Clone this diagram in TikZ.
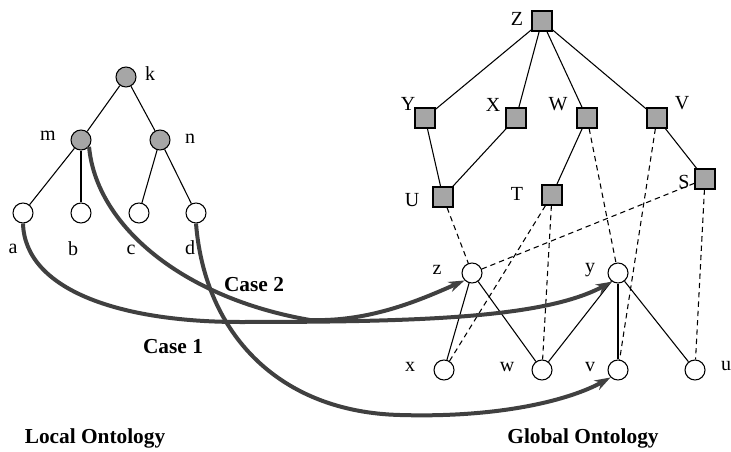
\documentclass[tikz,border=0pt]{standalone}
\usepackage{fontspec}
\setmainfont{Liberation Serif}
\usetikzlibrary{arrows.meta}

\tikzset{
    leaf/.style={circle, draw, line width=0.8pt, fill=white, minimum size=15pt, inner sep=0pt},
    branch/.style={leaf, fill=black!35},
    concept/.style={rectangle, draw, line width=0.9pt, fill=black!35, minimum size=15pt, inner sep=0pt},
    lbl/.style={font=\fontsize{15}{18}\selectfont, inner sep=0pt},
    heading/.style={font=\fontsize{16}{19}\selectfont\bfseries, inner sep=0pt},
    mapping/.style={line width=3pt, black!75, -{Stealth[length=12pt,width=8pt]}},
    shared/.style={dash pattern=on 4pt off 3pt, line width=0.8pt},
}

\begin{document}
\begin{tikzpicture}[x=0.75pt, y=-0.75pt, line width=0.8pt]
    \useasboundingbox (0,0) rectangle (731,452);

    % local ontology
    \node[branch] (k) at (126,77) {};
    \node[branch] (m) at (81,140) {};
    \node[branch] (n) at (160,140) {};
    \node[leaf] (a) at (23,213) {};
    \node[leaf] (b) at (81,213) {};
    \node[leaf] (c) at (139,213) {};
    \node[leaf] (d) at (196,213) {};

    \node[lbl] (k-l) at (150,74) {k};
    \node[lbl] (m-l) at (48,136) {m};
    \node[lbl] (n-l) at (190,139) {n};
    \node[lbl] (a-l) at (13,249) {a};
    \node[lbl] (b-l) at (73,249) {b};
    \node[lbl] (c-l) at (131,250) {c};
    \node[lbl] (d-l) at (190,248) {d};

    \draw (k) -- (m);
    \draw (k) -- (n);
    \draw (m) -- (a);
    \draw (m) -- (b);
    \draw (n) -- (c);
    \draw (n) -- (d);

    % global ontology: concepts
    \node[concept] (Z) at (542,21) {};
    \node[concept] (Y) at (425,118) {};
    \node[concept] (X) at (516,118) {};
    \node[concept] (W) at (587,118) {};
    \node[concept] (V) at (657,118) {};
    \node[concept] (U) at (443,197) {};
    \node[concept] (T) at (552,195) {};
    \node[concept] (S) at (705,179) {};

    \node[lbl] (Z-l) at (517,19) {Z};
    \node[lbl] (Y-l) at (408,104) {Y};
    \node[lbl] (X-l) at (493,105) {X};
    \node[lbl] (W-l) at (558,104) {W};
    \node[lbl] (V-l) at (682,103) {V};
    \node[lbl] (U-l) at (412,200) {U};
    \node[lbl] (T-l) at (517,194) {T};
    \node[lbl] (S-l) at (684,182) {S};

    % global ontology: instances
    \node[leaf] (z) at (472,273) {};
    \node[leaf] (y) at (618,273) {};
    \node[leaf] (x) at (444,370) {};
    \node[leaf] (w) at (542,370) {};
    \node[leaf] (v) at (618,370) {};
    \node[leaf] (u) at (695,370) {};

    \node[lbl] (z-l) at (437,270) {z};
    \node[lbl] (y-l) at (590,270) {y};
    \node[lbl] (x-l) at (410,367) {x};
    \node[lbl] (w-l) at (507,367) {w};
    \node[lbl] (v-l) at (590,367) {v};
    \node[lbl] (u-l) at (726,366) {u};

    \draw (Z) -- (Y);
    \draw (Z) -- (X);
    \draw (Z) -- (W);
    \draw (Z) -- (V);
    \draw (Y) -- (U);
    \draw (X) -- (U);
    \draw (W) -- (T);
    \draw (V) -- (S);

    \draw (z) -- (x);
    \draw (z) -- (w);
    \draw (y) -- (w);
    \draw (y) -- (v);
    \draw (y) -- (u);

    \draw[shared] (U) -- (z);
    \draw[shared] (S) -- (z);
    \draw[shared] (T) -- (x);
    \draw[shared] (T) -- (w);
    \draw[shared] (W) -- (y);
    \draw[shared] (V) -- (v);
    \draw[shared] (S) -- (u);

    % mappings
    \draw[mapping] (a.south) .. controls (25,290) and (120,322) .. (240,322)
        .. controls (420,322) and (545,318) .. (y.-125);
    \draw[mapping] (m.-40) .. controls (96,225) and (182,298) .. (310,320)
        .. controls (370,322) and (420,300) .. (z.south west);
    \draw[mapping] (d.south) .. controls (205,335) and (280,412) .. (400,415)
        .. controls (500,418) and (570,400) .. (v.south west);

    \node[heading] (case2) at (254,285) {Case 2};
    \node[heading] (case1) at (173,347) {Case 1};
    \node[heading] (local) at (95,438) {Local Ontology};
    \node[heading] (global) at (583,438) {Global Ontology};
\end{tikzpicture}
\end{document}
